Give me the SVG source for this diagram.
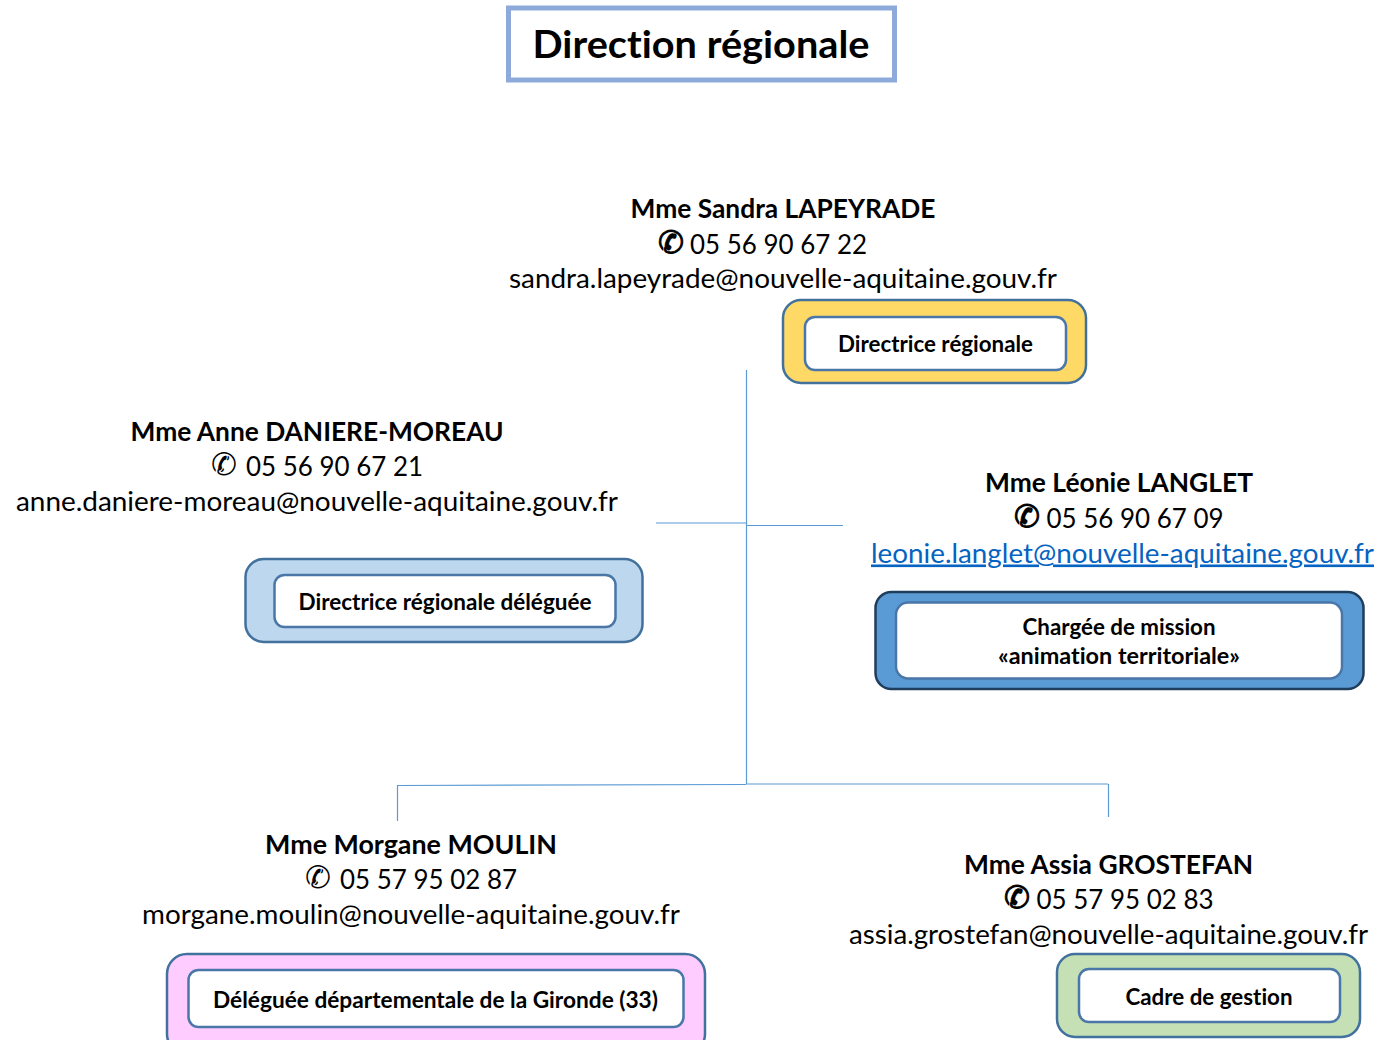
<svg xmlns="http://www.w3.org/2000/svg" width="1380" height="1040" viewBox="0 0 1380 1040">
<style>
text{font-family:Lato,"Open Sans","Liberation Sans",sans-serif;fill:#000;text-anchor:middle;font-variant-ligatures:none}
.n{font-size:26px;font-weight:700}
.p{font-size:26px}
.i{font-family:"DejaVu Sans",sans-serif;font-size:31px}
.h{stroke:#000;stroke-width:1}
.l{font-size:22px;font-weight:700}
.o{stroke:#41719c;stroke-width:2.5}
.w{fill:#fff;stroke:#4a76a8;stroke-width:2.5}
.c{fill:none;stroke:#5b9bd5;stroke-width:1.2}
</style>
<rect width="1380" height="1040" fill="#fff"/>
<g id="titre"><rect x="508.500" y="8" width="386" height="72" fill="#fff" stroke="#8eaadb" stroke-width="5"/><text x="701" y="58" font-size="38" font-weight="700" textLength="337" lengthAdjust="spacingAndGlyphs">Direction régionale</text></g>
<g id="connecteurs">
<path class="c" d="M746.500 370V784M656 523H746M747 525.500H843M398 785.500L746 784.500M746 784H1108M397.500 785V821M1108.500 784V817"/>
</g>
<g id="sandra">
<text class="n" x="783" y="217.500" textLength="305" lengthAdjust="spacingAndGlyphs">Mme Sandra LAPEYRADE</text>
<text class="i h" x="671" y="253">✆</text><text class="p" x="778.500" y="253.500" textLength="177" lengthAdjust="spacingAndGlyphs">05 56 90 67 22</text>
<text class="p" x="783" y="287.500" textLength="548" lengthAdjust="spacingAndGlyphs">sandra.lapeyrade@nouvelle-aquitaine.gouv.fr</text>
<rect class="o" x="783" y="300" width="303" height="83" rx="18" fill="#ffd966"/>
<rect class="w" x="805" y="317" width="261" height="53" rx="10"/>
<text class="l" x="935.500" y="351.500" textLength="195" lengthAdjust="spacingAndGlyphs">Directrice régionale</text>
</g>
<g id="anne">
<text class="n" x="317" y="440.500" textLength="373" lengthAdjust="spacingAndGlyphs">Mme Anne DANIERE-MOREAU</text>
<text class="i" x="224" y="475">✆</text><text class="p" x="334.500" y="475.500" textLength="177" lengthAdjust="spacingAndGlyphs">05 56 90 67 21</text>
<text class="p" x="317" y="510.500" textLength="602" lengthAdjust="spacingAndGlyphs">anne.daniere-moreau@nouvelle-aquitaine.gouv.fr</text>
<rect class="o" x="245.500" y="559" width="397" height="83" rx="18" fill="#bdd7ee"/>
<rect class="w" x="274.500" y="575" width="341" height="52" rx="10"/>
<text class="l" x="445" y="609.500" textLength="293" lengthAdjust="spacingAndGlyphs">Directrice régionale déléguée</text>
</g>
<g id="leonie">
<text class="n" x="1119" y="491.500" textLength="268" lengthAdjust="spacingAndGlyphs">Mme Léonie LANGLET</text>
<text class="i h" x="1027" y="527">✆</text><text class="p" x="1135" y="527.500" textLength="177" lengthAdjust="spacingAndGlyphs">05 56 90 67 09</text>
<text class="p" x="1122.500" y="562.500" textLength="503" lengthAdjust="spacingAndGlyphs" style="fill:#0563c1" text-decoration="underline">leonie.langlet@nouvelle-aquitaine.gouv.fr</text>
<rect x="875.500" y="592" width="488" height="97" rx="16" fill="#5b9bd5" stroke="#1f3d5c" stroke-width="2.500"/>
<rect class="w" x="896" y="602.500" width="446" height="76" rx="12"/>
<text class="l" x="1119" y="634.500" textLength="193" lengthAdjust="spacingAndGlyphs">Chargée de mission</text>
<text class="l" x="1119" y="663.500" textLength="242" lengthAdjust="spacingAndGlyphs">«animation territoriale»</text>
</g>
<g id="morgane">
<text class="n" x="411" y="853.500" textLength="292" lengthAdjust="spacingAndGlyphs">Mme Morgane MOULIN</text>
<text class="i" x="318" y="888">✆</text><text class="p" x="428.500" y="888.500" textLength="177" lengthAdjust="spacingAndGlyphs">05 57 95 02 87</text>
<text class="p" x="411" y="923.500" textLength="538" lengthAdjust="spacingAndGlyphs">morgane.moulin@nouvelle-aquitaine.gouv.fr</text>
<rect class="o" x="167" y="954" width="538" height="100" rx="20" fill="#ffccff"/>
<rect class="w" x="188.500" y="970" width="495" height="57" rx="10"/>
<text class="l" x="435.500" y="1007.500" textLength="445" lengthAdjust="spacingAndGlyphs">Déléguée départementale de la Gironde (33)</text>
</g>
<g id="assia">
<text class="n" x="1108.500" y="873.500" textLength="289" lengthAdjust="spacingAndGlyphs">Mme Assia GROSTEFAN</text>
<text class="i h" x="1017" y="908">✆</text><text class="p" x="1125" y="908.500" textLength="177" lengthAdjust="spacingAndGlyphs">05 57 95 02 83</text>
<text class="p" x="1108.500" y="943.500" textLength="519" lengthAdjust="spacingAndGlyphs">assia.grostefan@nouvelle-aquitaine.gouv.fr</text>
<rect class="o" x="1057" y="954" width="303" height="83" rx="18" fill="#c5e0b4"/>
<rect class="w" x="1079" y="969" width="261" height="53" rx="10"/>
<text class="l" x="1209" y="1004.500" textLength="167" lengthAdjust="spacingAndGlyphs">Cadre de gestion</text>
</g>
</svg>
